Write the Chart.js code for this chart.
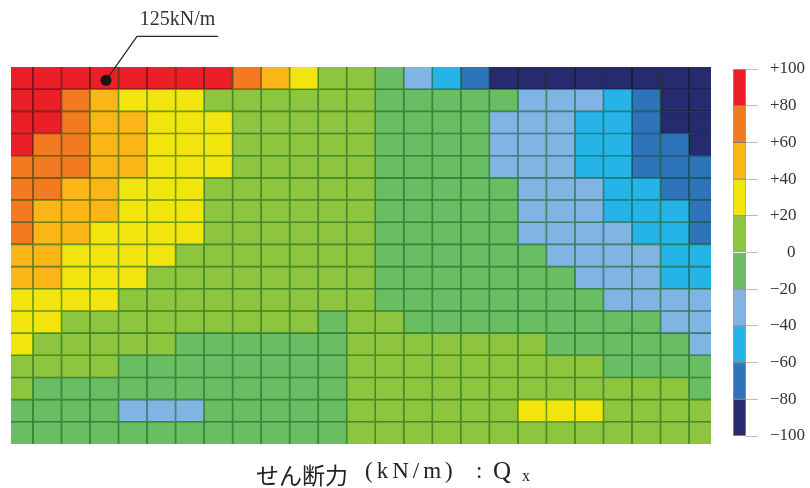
<!DOCTYPE html>
<html>
<head>
<meta charset="utf-8">
<script src="https://cdn.jsdelivr.net/npm/chart.js@4.4.1/dist/chart.umd.min.js"></script>
<style>
  html, body { margin: 0; padding: 0; background: #ffffff; }
  #wrap { position: relative; width: 810px; height: 488px; overflow: hidden; }
  #wrap canvas { position: absolute; left: 0; top: 0; }
  #xtitle { position: absolute; left: 0; top: 0; white-space: pre; color: #222; }
  #xtitle span { position: absolute; top: 0; line-height: 1; }
</style>
</head>
<body>
<div id="wrap">
  <canvas id="heat" width="810" height="488"></canvas>
  <canvas id="bar" width="810" height="488"></canvas>
  <div id="xtitle">
    <span style="left:256px; top:457px; font:23px 'Noto Sans CJK JP';">せん断力</span>
    <span style="left:365px; top:458px; font:23px 'Liberation Serif','Noto Sans CJK JP'; letter-spacing:4px;">(kN/m)</span>
    <span style="left:476px; top:458px; font:23px 'Liberation Serif','Noto Sans CJK JP';">:</span>
    <span style="left:493px; top:457px; font:25px 'Liberation Serif','Noto Sans CJK JP';">Q</span>
    <span style="left:522px; top:467px; font:16px 'Liberation Serif','Noto Sans CJK JP';">x</span>
  </div>
</div>
<script>
// ---- data: shear force Qx (kN/m) per element, rows from top to bottom ----
const colEdges = [0, 0.77, 1.77, 2.77, 3.77, 4.77, 5.77, 6.77, 7.77, 8.77, 9.77, 10.77, 11.77,
  12.77, 13.77, 14.77, 15.77, 16.77, 17.77, 18.77, 19.77, 20.77, 21.77, 22.77, 23.77, 24.54];

const row01 = [90,90,90,125,90,90,90,90,70,50,30,10,10,-10,-30,-50,-70,-90,-90,-90,-90,-90,-90,-90,-90];
const row02 = [90,90,70,50,30,30,30,10,10,10,10,10,10,-10,-10,-10,-10,-10,-30,-30,-30,-50,-70,-90,-90];
const row03 = [90,90,70,50,50,30,30,30,10,10,10,10,10,-10,-10,-10,-10,-30,-30,-30,-50,-50,-70,-90,-90];
const row04 = [90,70,70,50,50,30,30,30,10,10,10,10,10,-10,-10,-10,-10,-30,-30,-30,-50,-50,-70,-70,-90];
const row05 = [70,70,70,50,50,30,30,30,10,10,10,10,10,-10,-10,-10,-10,-30,-30,-30,-50,-50,-70,-70,-70];
const row06 = [70,70,50,50,30,30,30,10,10,10,10,10,10,-10,-10,-10,-10,-10,-30,-30,-30,-50,-50,-70,-70];
const row07 = [70,50,50,50,30,30,30,10,10,10,10,10,10,-10,-10,-10,-10,-10,-30,-30,-30,-50,-50,-50,-70];
const row08 = [70,50,50,30,30,30,30,10,10,10,10,10,10,-10,-10,-10,-10,-10,-30,-30,-30,-30,-50,-50,-70];
const row09 = [50,50,30,30,30,30,10,10,10,10,10,10,10,-10,-10,-10,-10,-10,-10,-30,-30,-30,-30,-50,-50];
const row10 = [50,50,30,30,30,10,10,10,10,10,10,10,10,-10,-10,-10,-10,-10,-10,-10,-30,-30,-30,-50,-50];
const row11 = [30,30,30,30,10,10,10,10,10,10,10,10,10,-10,-10,-10,-10,-10,-10,-10,-10,-30,-30,-30,-30];
const row12 = [30,30,10,10,10,10,10,10,10,10,10,-10,10,10,-10,-10,-10,-10,-10,-10,-10,-10,-10,-30,-30];
const row13 = [30,10,10,10,10,10,-10,-10,-10,-10,-10,-10,10,10,10,10,10,10,10,-10,-10,-10,-10,-10,-30];
const row14 = [10,10,10,10,-10,-10,-10,-10,-10,-10,-10,-10,10,10,10,10,10,10,10,10,10,-10,-10,-10,-10];
const row15 = [10,-10,-10,-10,-10,-10,-10,-10,-10,-10,-10,-10,10,10,10,10,10,10,10,10,10,10,10,10,-10];
const row16 = [-10,-10,-10,-10,-30,-30,-30,-10,-10,-10,-10,-10,10,10,10,10,10,10,30,30,30,10,10,10,10];
const row17 = [-10,-10,-10,-10,-10,-10,-10,-10,-10,-10,-10,-10,10,10,10,10,10,10,10,10,10,10,10,10,10];
const rows = [row01,row02,row03,row04,row05,row06,row07,row08,row09,row10,row11,row12,row13,row14,row15,row16,row17];

// colour legend: bin edges and tick labels
const legendEdges = [-100,-80,-60,-40,-20,0,20,40,60,80,100];
const legendTicks = ['\u2212100','\u221280','\u221260','\u221240','\u221220','\u2007\u20070','+20','+40','+60','+80','+100'];

// annotated peak
const peakLabel = '125kN/m';
const peakPoint = { x: 3.33, y: 0.6 };
const xTitle = 'せん断力 (kN/m) : Qx';

// ---- styles ----
const binColors = ['#262A6E','#2E74BA','#26B4E8','#80B4E3','#69BD63','#8DC53F','#F2E50E','#FBB516','#F37A21','#ED1F26'];

function colorFor(v) {
  let i = Math.floor((v + 100) / 20);
  if (i < 0) i = 0;
  if (i > 9) i = 9;
  return binColors[i];
}

const heatPlugin = {
  id: 'heat',
  beforeDatasetsDraw(chart) {
    const { ctx, scales: { x, y } } = chart;
    ctx.save();
    // cells
    rows.forEach((row, r) => {
      const y0 = y.getPixelForValue(r), y1 = y.getPixelForValue(r + 1);
      row.forEach((v, c) => {
        const x0 = x.getPixelForValue(colEdges[c]), x1 = x.getPixelForValue(colEdges[c + 1]);
        ctx.fillStyle = colorFor(v);
        ctx.fillRect(x0, y0, x1 - x0, y1 - y0);
      });
    });
    // element mesh lines
    ctx.globalCompositeOperation = 'multiply';
    ctx.strokeStyle = 'rgba(60,140,70,0.75)';
    ctx.lineWidth = 1.6;
    const top = y.getPixelForValue(0), bottom = y.getPixelForValue(rows.length);
    const left = x.getPixelForValue(colEdges[0]), right = x.getPixelForValue(colEdges[colEdges.length - 1]);
    ctx.beginPath();
    for (let c = 1; c < colEdges.length - 1; c++) {
      const px = x.getPixelForValue(colEdges[c]);
      ctx.moveTo(px, top); ctx.lineTo(px, bottom);
    }
    for (let r = 1; r < rows.length; r++) {
      const py = y.getPixelForValue(r);
      ctx.moveTo(left, py); ctx.lineTo(right, py);
    }
    ctx.stroke();
    ctx.globalCompositeOperation = 'source-over';
    // peak annotation
    const px = x.getPixelForValue(peakPoint.x), py = y.getPixelForValue(peakPoint.y);
    ctx.strokeStyle = '#2a2a2a';
    ctx.lineWidth = 1.3;
    ctx.beginPath();
    ctx.moveTo(px, py);
    ctx.lineTo(px + 31, py - 44);
    ctx.lineTo(px + 112, py - 44);
    ctx.stroke();
    ctx.fillStyle = '#151515';
    ctx.beginPath();
    ctx.arc(px, py, 5.5, 0, Math.PI * 2);
    ctx.fill();
    ctx.fillStyle = '#333';
    ctx.font = "20px 'Liberation Serif'";
    ctx.textAlign = 'center';
    ctx.textBaseline = 'alphabetic';
    ctx.fillText(peakLabel, px + 71.5, py - 55);
    ctx.restore();
  }
};

new Chart(document.getElementById('heat'), {
  type: 'scatter',
  data: { datasets: [] },
  options: {
    responsive: false,
    animation: false,
    layout: { padding: { left: 11, right: 99, top: 67, bottom: 44 } },
    plugins: { legend: { display: false }, tooltip: { enabled: false } },
    scales: {
      x: { type: 'linear', min: colEdges[0], max: colEdges[colEdges.length - 1], display: false },
      y: { type: 'linear', min: 0, max: rows.length, reverse: true, display: false }
    }
  },
  plugins: [heatPlugin]
});

new Chart(document.getElementById('bar'), {
  type: 'bar',
  data: {
    labels: [''],
    datasets: binColors.map((c, i) => ({
      data: [[legendEdges[i], legendEdges[i + 1]]],
      backgroundColor: c,
      borderColor: 'rgba(60,30,30,0.45)',
      borderWidth: 1,
      borderSkipped: false,
      barPercentage: 1,
      categoryPercentage: 1,
      grouped: false
    }))
  },
  options: {
    responsive: false,
    animation: false,
    layout: { padding: { left: 733, right: 0, top: 69, bottom: 52 } },
    plugins: { legend: { display: false }, tooltip: { enabled: false } },
    scales: {
      x: { display: false },
      y: {
        position: 'right',
        min: -100, max: 100,
        afterBuildTicks: (s) => { s.ticks = legendEdges.map(v => ({ value: v })); },
        afterFit: (s) => { s.width = 64; },
        ticks: {
          callback: (v) => legendTicks[legendEdges.indexOf(v)],
          color: '#333',
          padding: 12,
          font: { family: 'Liberation Serif', size: 17 }
        },
        grid: { drawOnChartArea: false, drawTicks: true, tickLength: 12, color: '#bdbdbd' },
        border: { display: false }
      }
    }
  }
});
</script>
</body>
</html>
